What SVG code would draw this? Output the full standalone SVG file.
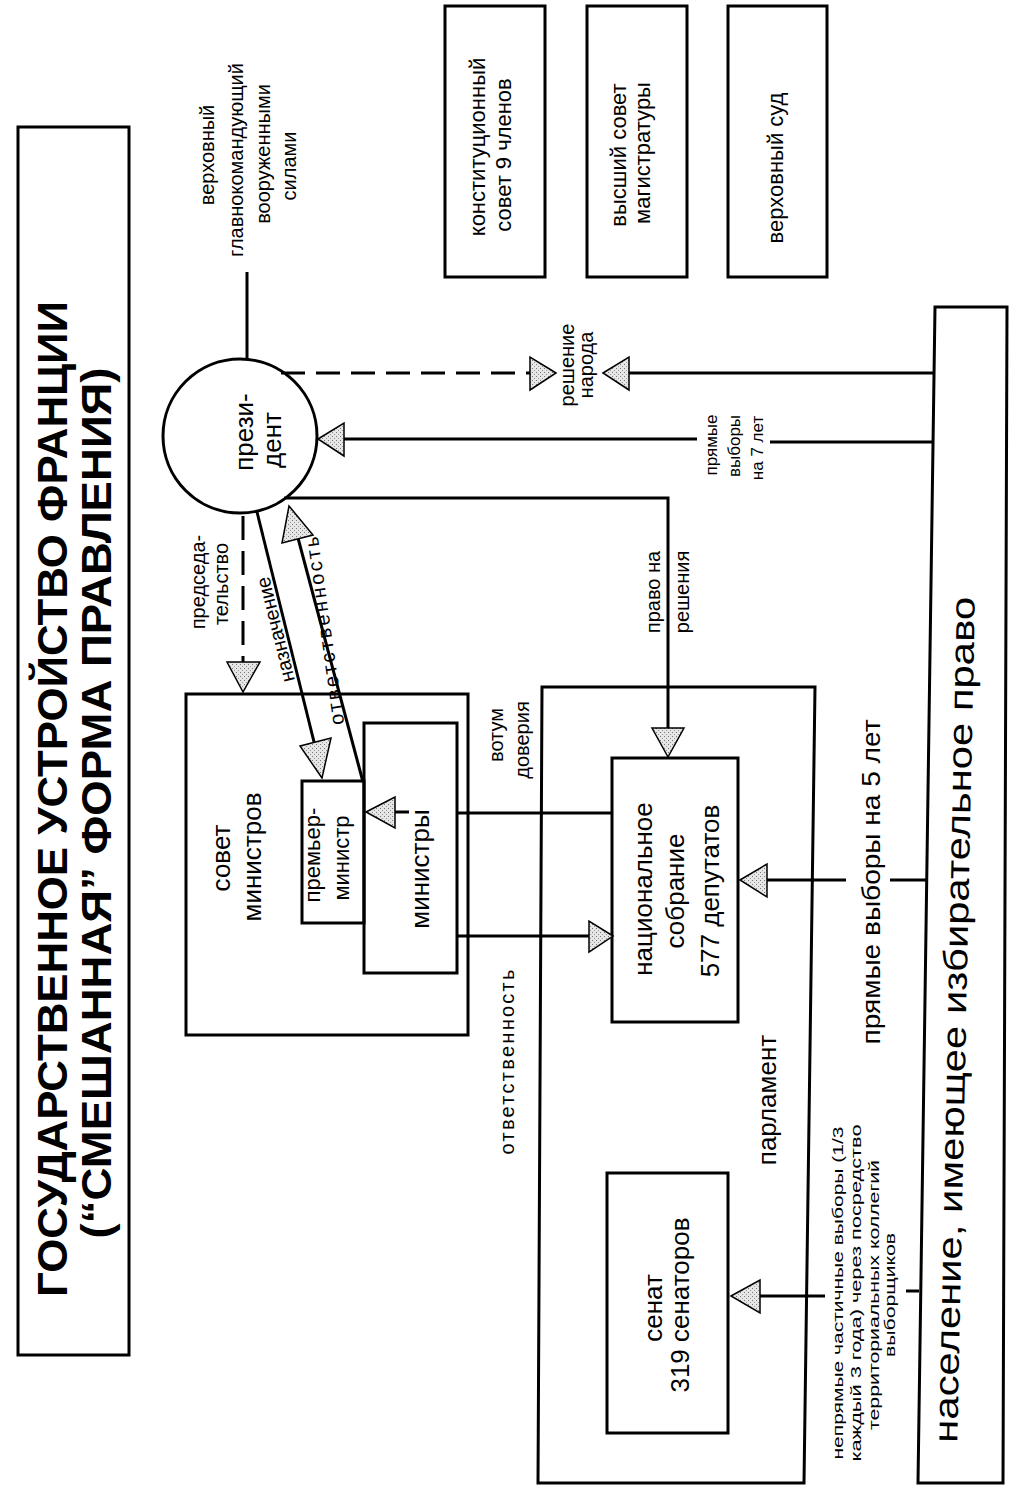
<svg xmlns="http://www.w3.org/2000/svg" width="1017" height="1493" viewBox="0 0 1017 1493">
<defs>
<pattern id="stip" width="4" height="4" patternUnits="userSpaceOnUse">
<rect width="4" height="4" fill="#e6e6e6"/>
<rect x="0" y="0" width="1" height="1" fill="#777"/>
<rect x="2" y="2" width="1" height="1" fill="#999"/>
</pattern>
</defs>
<style>
.bx{fill:none;stroke:#000;stroke-width:3}
.ln{fill:none;stroke:#000;stroke-width:3}
.ds{fill:none;stroke:#000;stroke-width:3;stroke-dasharray:24 11}
.ah{fill:url(#stip);stroke:#000;stroke-width:1.5;stroke-linejoin:miter}
text{font-family:"Liberation Sans",Arial,sans-serif;fill:#000;text-anchor:middle}
.t{font-size:20px}
.m{font-size:22px}
.b{font-size:26px}
.s{font-size:15px}
.h{font-size:42px;font-weight:bold;font-family:"Liberation Sans Narrow","Liberation Sans",Arial,sans-serif}
</style>
<rect width="1017" height="1493" fill="#fff"/>

<g id="title">
<rect class="bx" x="18" y="127" width="111" height="1228"/>
<text class="h" transform="translate(67,799) rotate(-90)" textLength="996" lengthAdjust="spacingAndGlyphs">ГОСУДАРСТВЕННОЕ УСТРОЙСТВО ФРАНЦИИ</text>
<text class="h" transform="translate(111,803) rotate(-90)" textLength="871" lengthAdjust="spacingAndGlyphs">(“СМЕШАННАЯ” ФОРМА ПРАВЛЕНИЯ)</text>
</g>

<g id="commander">
<text class="t" transform="translate(214,155) rotate(-90)">верховный</text>
<text class="t" transform="translate(243,160) rotate(-90)">главнокомандующий</text>
<text class="t" transform="translate(270,154) rotate(-90)">вооруженными</text>
<text class="t" transform="translate(296,166) rotate(-90)">силами</text>
</g>

<g id="const-council">
<rect class="bx" x="445" y="6" width="100" height="271"/>
<text class="m" transform="translate(485,147) rotate(-90)">конституционный</text>
<text class="m" transform="translate(511,155) rotate(-90)">совет 9 членов</text>
</g>
<g id="magistracy">
<rect class="bx" x="587" y="6" width="100" height="271"/>
<text class="m" transform="translate(626,155) rotate(-90)">высший совет</text>
<text class="m" transform="translate(650,153) rotate(-90)">магистратуры</text>
</g>
<g id="supreme-court">
<rect class="bx" x="728" y="6" width="99" height="271"/>
<text class="m" transform="translate(783,168) rotate(-90)">верховный суд</text>
</g>

<g id="president">
<circle class="bx" cx="240" cy="436" r="77"/>
<text class="b" transform="translate(253,432) rotate(-90)">прези-</text>
<text class="b" transform="translate(281,440) rotate(-90)">дент</text>
</g>

<g id="council-of-ministers">
<rect class="bx" x="186" y="694" width="282" height="341"/>
<text class="b" transform="translate(230,858) rotate(-90)">совет</text>
<text class="b" transform="translate(261,857) rotate(-90)">министров</text>
</g>
<g id="prime-minister">
<rect class="bx" x="302" y="781" width="62" height="142"/>
<text class="m" transform="translate(320,855) rotate(-90)">премьер-</text>
<text class="m" transform="translate(349,858) rotate(-90)">министр</text>
</g>
<g id="ministers">
<rect class="bx" x="364" y="723" width="93" height="250"/>
<text class="b" transform="translate(429,869) rotate(-90)">министры</text>
</g>

<g id="parliament">
<path class="bx" d="M542,687 L815,687 L804,1483 L538,1483 Z"/>
<text class="b" transform="translate(776,1100) rotate(-90)">парламент</text>
</g>
<g id="national-assembly">
<rect class="bx" x="612" y="758" width="126" height="264"/>
<text class="b" transform="translate(652,889) rotate(-90)">национальное</text>
<text class="b" transform="translate(684,891) rotate(-90)">собрание</text>
<text class="b" transform="translate(719,891) rotate(-90)">577 депутатов</text>
</g>
<g id="senate">
<rect class="bx" x="607" y="1173" width="121" height="260"/>
<text class="b" transform="translate(662,1308) rotate(-90)">сенат</text>
<text class="b" transform="translate(689,1305) rotate(-90)">319 сенаторов</text>
</g>

<g id="population">
<path class="bx" d="M935,307 L1007,307 L1003,1483 L918,1483 Z"/>
<text transform="translate(966,1020) rotate(-88.8)" style="font-size:34px" textLength="846" lengthAdjust="spacingAndGlyphs">население, имеющее избирательное право</text>
</g>

<g id="connectors">
<line class="ln" x1="247" y1="272" x2="247" y2="360"/>
<line class="ds" x1="281" y1="373" x2="530" y2="373"/>
<polygon class="ah" points="556,373 530,357 530,390"/>
<line class="ln" x1="628" y1="373" x2="934" y2="373"/>
<polygon class="ah" points="603,373 629,357 629,390"/>
<line class="ln" x1="344" y1="439" x2="697" y2="439"/>
<line class="ln" x1="770" y1="442" x2="933" y2="442"/>
<polygon class="ah" points="318,439 344,423 344,456"/>
<polyline class="ln" points="284,498 668,498 668,728"/>
<polygon class="ah" points="668,757 652,728 684,728"/>
<line class="ds" x1="243" y1="516" x2="243" y2="662"/>
<polygon class="ah" points="243,692 227,662 260,662"/>
<line class="ln" x1="257" y1="512" x2="316" y2="750"/>
<polygon class="ah" points="322,778 300,746 331,738"/>
<line class="ln" x1="363" y1="782" x2="298" y2="538"/>
<polygon class="ah" points="289,506 282,543 313,535"/>
<line class="ln" x1="395" y1="812" x2="409" y2="812"/>
<polygon class="ah" points="366,812 395,797 395,828"/>
<line class="ln" x1="457" y1="813" x2="612" y2="813"/>
<line class="ln" x1="457" y1="936" x2="590" y2="936"/>
<polygon class="ah" points="613,936 589,921 589,952"/>
<line class="ln" x1="766" y1="880" x2="846" y2="880"/>
<line class="ln" x1="890" y1="880" x2="926" y2="880"/>
<polygon class="ah" points="740,880 767,864 767,897"/>
<line class="ln" x1="759" y1="1296" x2="825" y2="1296"/>
<line class="ln" x1="906" y1="1291" x2="919" y2="1291"/>
<polygon class="ah" points="731,1296 760,1280 760,1313"/>
</g>

<g id="labels">
<text class="t" transform="translate(205,582) rotate(-90)">председа-</text>
<text class="t" transform="translate(228,584) rotate(-90)">тельство</text>
<text class="t" transform="translate(282,628) rotate(-104)">назначение</text>
<text class="t" transform="translate(331,630) rotate(-98)" textLength="190" lengthAdjust="spacing">ответственность</text>
<text class="t" transform="translate(503,735) rotate(-90)">вотум</text>
<text class="t" transform="translate(529,740) rotate(-90)">доверия</text>
<text class="t" transform="translate(514,1062) rotate(-90)" textLength="185" lengthAdjust="spacing">ответственность</text>
<text class="t" transform="translate(660,592) rotate(-90)">право на</text>
<text class="t" transform="translate(689,592) rotate(-90)">решения</text>
<text class="t" transform="translate(574,365) rotate(-90)">решение</text>
<text class="t" transform="translate(593,365) rotate(-90)">народа</text>
<text style="font-size:17px" transform="translate(717,445) rotate(-90)">прямые</text>
<text style="font-size:17px" transform="translate(740,446) rotate(-90)">выборы</text>
<text style="font-size:17px" transform="translate(763,448) rotate(-90)">на 7 лет</text>
<text class="b" transform="translate(880,882) rotate(-90)" textLength="325" lengthAdjust="spacingAndGlyphs">прямые выборы на 5 лет</text>
<text class="s" transform="translate(843,1293) rotate(-90)" textLength="333" lengthAdjust="spacingAndGlyphs">непрямые частичные выборы (1/3</text>
<text class="s" transform="translate(861,1293) rotate(-90)" textLength="337" lengthAdjust="spacingAndGlyphs">каждый 3 года) через посредство</text>
<text class="s" transform="translate(879,1295) rotate(-90)" textLength="270" lengthAdjust="spacingAndGlyphs">территориальных коллегий</text>
<text class="s" transform="translate(895,1295) rotate(-90)" textLength="124" lengthAdjust="spacingAndGlyphs">выборщиков</text>
</g>
</svg>
